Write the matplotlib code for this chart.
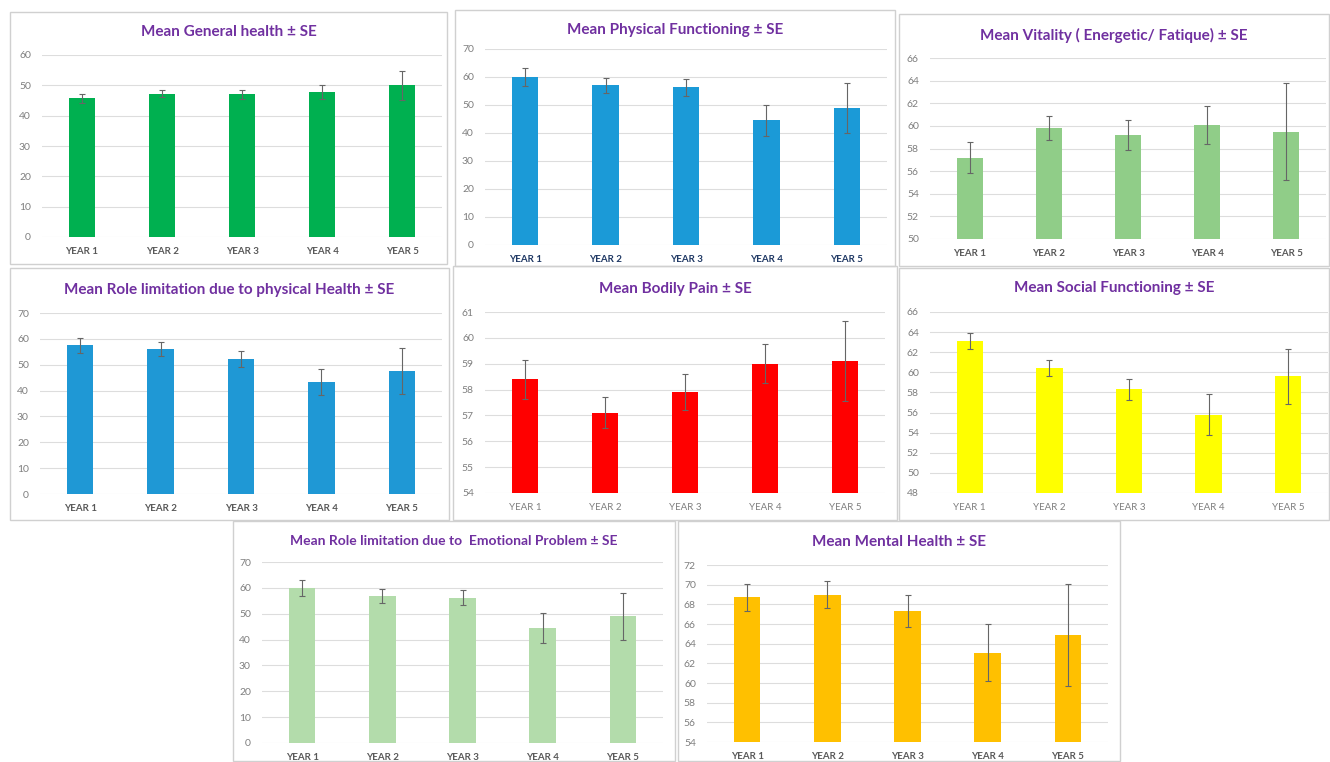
import matplotlib
matplotlib.use('Agg')
import matplotlib.pyplot as plt
from matplotlib.patches import Rectangle

years = ['YEAR 1', 'YEAR 2', 'YEAR 3', 'YEAR 4', 'YEAR 5']

general_health_mean = [45.8, 47.3, 47.0, 47.8, 50.0]
general_health_se = [1.5, 1.2, 1.4, 2.2, 4.8]

physical_func_mean = [60.0, 57.0, 56.3, 44.5, 49.0]
physical_func_se = [3.2, 2.8, 3.0, 5.5, 9.0]

vitality_mean = [57.2, 59.8, 59.2, 60.1, 59.5]
vitality_se = [1.4, 1.05, 1.3, 1.7, 4.3]

role_physical_mean = [57.5, 56.0, 52.2, 43.3, 47.6]
role_physical_se = [3.0, 2.7, 3.2, 5.2, 9.0]

bodily_pain_mean = [58.4, 57.1, 57.9, 59.0, 59.1]
bodily_pain_se = [0.75, 0.6, 0.7, 0.75, 1.55]

social_func_mean = [63.1, 60.4, 58.3, 55.8, 59.6]
social_func_se = [0.8, 0.8, 1.05, 2.0, 2.7]

role_emotional_mean = [60.0, 57.0, 56.2, 44.5, 49.0]
role_emotional_se = [3.2, 2.7, 3.0, 5.7, 9.0]

mental_health_mean = [68.7, 69.0, 67.3, 63.1, 64.9]
mental_health_se = [1.4, 1.35, 1.65, 2.9, 5.2]

W, H = 1330, 762
plt.rcParams['font.family'] = ['Lato', 'DejaVu Sans']

fig = plt.figure(figsize=(W / 100, H / 100), dpi=100)
fig.patch.set_facecolor('white')

def px_rect(l, t, r, b):
	# pixel box (top-left origin) -> figure fraction [left, bottom, width, height]
	return [l / W, 1 - b / H, (r - l) / W, (b - t) / H]

# title, mean, se, colour, ylim, step, frame box, axes box, title y, title size, label weight, label colour
panels = [
	('Mean General health ± SE', general_health_mean, general_health_se, '#00B050', (0, 60), 10,
		(10, 12, 447, 264), (42, 55, 442, 237), 32, 11, 'bold', '#595959'),
	('Mean Physical Functioning ± SE', physical_func_mean, physical_func_se, '#1B9AD7', (0, 70), 10,
		(455, 10, 895, 266), (485, 49, 887, 245), 30, 11, 'bold', '#1F3864'),
	('Mean Vitality ( Energetic/ Fatique) ± SE', vitality_mean, vitality_se, '#90CD88', (50, 66), 2,
		(899, 14, 1329, 266), (930, 58, 1326, 239), 35, 11, 'bold', '#595959'),
	('Mean Role limitation due to physical Health ± SE', role_physical_mean, role_physical_se, '#1F98D5', (0, 70), 10,
		(10, 268, 449, 520), (40, 313, 442, 494), 290, 11, 'bold', '#595959'),
	('Mean Bodily Pain ± SE', bodily_pain_mean, bodily_pain_se, '#FF0000', (54, 61), 1,
		(453, 266, 897, 520), (485, 312, 885, 493), 289, 11, 'normal', '#7F7F7F'),
	('Mean Social Functioning ± SE', social_func_mean, social_func_se, '#FFFF00', (48, 66), 2,
		(899, 268, 1329, 520), (930, 312, 1328, 493), 288, 11, 'normal', '#7F7F7F'),
	('Mean Role limitation due to  Emotional Problem ± SE', role_emotional_mean, role_emotional_se, '#B3DCAB', (0, 70), 10,
		(233, 521, 675, 761), (262, 562, 663, 743), 541, 10, 'bold', '#595959'),
	('Mean Mental Health ± SE', mental_health_mean, mental_health_se, '#FFC000', (54, 72), 2,
		(678, 521, 1120, 761), (707, 565, 1108, 742), 542, 11, 'bold', '#595959'),
]

for title, mean, se, color, ylim, step, frame, box, ty, tsize, lw, lc in panels:
	# light grey panel frame
	fl, ft, fr, fb = frame
	fig.patches.append(Rectangle((fl / W, 1 - fb / H), (fr - fl) / W, (fb - ft) / H,
		transform=fig.transFigure, fill=False, edgecolor='#D0D0D0', linewidth=1.0))

	ax = fig.add_axes(px_rect(*box))
	x = range(len(years))
	ax.bar(x, [m - ylim[0] for m in mean], bottom=ylim[0], width=0.33, color=color, zorder=2)
	ax.errorbar(x, mean, yerr=se, fmt='none', ecolor='#666666', elinewidth=0.8,
		capsize=2.5, capthick=0.8, zorder=3)

	ax.set_xlim(-0.5, len(years) - 0.5)
	ax.set_ylim(*ylim)
	ax.set_yticks(range(ylim[0], ylim[1] + 1, step))
	ax.set_xticks(list(x))
	ax.set_xticklabels(years, fontsize=7, fontweight=lw, color=lc)
	ax.tick_params(axis='y', labelsize=7.5, labelcolor='#7F7F7F', length=0, pad=8)
	ax.tick_params(axis='x', length=0, pad=7)
	ax.grid(axis='y', color='#DDDDDD', linewidth=0.8, zorder=0)
	ax.set_axisbelow(True)
	for s in ax.spines.values():
		s.set_visible(False)

	fig.text((fl + fr) / 2 / W, 1 - ty / H, title, ha='center', va='center',
		fontsize=tsize, fontweight='bold', color='#7030A0')

fig.savefig('out.png', dpi=100)
